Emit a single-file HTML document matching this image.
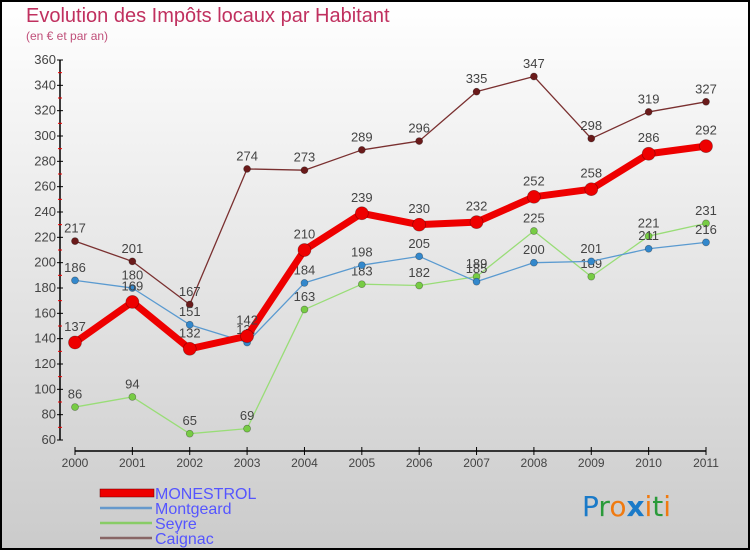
<!DOCTYPE html>
<html><head><meta charset="utf-8"><style>
body{margin:0;width:750px;height:550px;overflow:hidden}
svg{display:block;font-family:"Liberation Sans","DejaVu Sans",sans-serif}
</style></head><body>
<svg id="c" width="750" height="550" xmlns="http://www.w3.org/2000/svg">
<defs><linearGradient id="bg" x1="0" y1="0" x2="0" y2="1"><stop offset="0" stop-color="#ffffff"/><stop offset="1" stop-color="#cbcbcb"/></linearGradient></defs>
<rect x="1" y="1" width="748" height="548" fill="url(#bg)" stroke="#000" stroke-width="2"/>
<text x="26" y="22" font-size="20" fill="#c0305f">Evolution des Impôts locaux par Habitant</text>
<text x="26" y="40" font-size="12" fill="#c0507a">(en € et par an)</text>
<g id="axes"></g><g id="series"></g>
<g>
<rect x="100" y="489" width="54" height="8" fill="#e00" stroke="#600" stroke-width="0.5"/>
<text x="155" y="499" font-size="16" fill="#5555ff">MONESTROL</text>
<line x1="100" y1="508" x2="152" y2="508" stroke="#6699cc" stroke-width="2.5"/>
<text x="155" y="514" font-size="16" fill="#5555ff">Montgeard</text>
<line x1="100" y1="523" x2="152" y2="523" stroke="#88cc66" stroke-width="2.5"/>
<text x="155" y="529" font-size="16" fill="#5555ff">Seyre</text>
<line x1="100" y1="538" x2="152" y2="538" stroke="#886666" stroke-width="2.5"/>
<text x="155" y="544" font-size="16" fill="#5555ff">Caignac</text>
</g>
<text x="582" y="516" font-size="28" font-family="'DejaVu Sans',sans-serif"><tspan fill="#1a7ac8">P</tspan><tspan fill="#2a9a3a">r</tspan><tspan fill="#f07a10">o</tspan><tspan fill="#1a7ac8" font-weight="bold">x</tspan><tspan fill="#f07a10">i</tspan><tspan fill="#2a9a3a">t</tspan><tspan fill="#f07a10">i</tspan></text>
</svg>
<script>
const years=[2000,2001,2002,2003,2004,2005,2006,2007,2008,2009,2010,2011];
const monestrol=[137,169,132,142,210,239,230,232,252,258,286,292];
const montgeard=[186,180,151,137,184,198,205,185,200,201,211,216];
const seyre=[86,94,65,69,163,183,182,189,225,189,221,231];
const caignac=[217,201,167,274,273,289,296,335,347,298,319,327];
const yTicks=[60,80,100,120,140,160,180,200,220,240,260,280,300,320,340,360];
const NS='http://www.w3.org/2000/svg';
const x=i=>75+i*(706-75)/(years.length-1);
const y=v=>440-(v-60)*(380/300);
function mk(tag,attrs,parent){const e=document.createElementNS(NS,tag);for(const k in attrs)e.setAttribute(k,attrs[k]);parent.appendChild(e);return e;}
const ax=document.getElementById('axes');
const yl=mk('line',{x1:60,y1:y(360),x2:60,y2:y(60),stroke:'#000','stroke-width':1.5},ax);


yTicks.forEach((t,i)=>{
  mk('line',{x1:57,y1:y(t),x2:63,y2:y(t),stroke:'#000'},ax);
  if(i<yTicks.length-1)mk('line',{x1:58,y1:y(t+10),x2:62,y2:y(t+10),stroke:'#e00'},ax);
  const tx=mk('text',{x:56,y:y(t)+4,'text-anchor':'end','font-size':13,fill:'#444'},ax);
  tx.textContent=t;
  
  
});
const xl=mk('line',{x1:75,y1:451,x2:706,y2:451,stroke:'#000','stroke-width':1.5},ax);


years.forEach((yr,i)=>{
  mk('line',{x1:x(i),y1:447,x2:x(i),y2:455,stroke:'#000'},ax);
  const tx=mk('text',{x:x(i),y:467,'text-anchor':'middle','font-size':12,fill:'#444'},ax);
  tx.textContent=yr;
  
  
});
const sg=document.getElementById('series');
function draw(name,data,color,dot,w,r){
  const g=mk('g',{},sg);
  
  
  const pts=data.map((v,i)=>x(i)+','+y(v)).join(' ');
  mk('polyline',{points:pts,fill:'none',stroke:color,'stroke-width':w,'stroke-linejoin':'round'},g);
  data.forEach((v,i)=>{
    const c=mk('circle',{cx:x(i),cy:y(v),r:r,fill:dot,stroke:'rgba(0,0,0,0.35)','stroke-width':0.7},g);
    
    
    const t=mk('text',{x:x(i),y:y(v)-r-5,'text-anchor':'middle','font-size':13,fill:'#444'},g);
    t.textContent=v;
    
    
  });
}
draw('caignac',caignac,'#7a3030','#6a1a1a',1.3,3.5);
draw('seyre',seyre,'#99dd77','#77cc44',1.3,3.5);
draw('montgeard',montgeard,'#5a9ad0','#3388cc',1.3,3.5);
draw('monestrol',monestrol,'#ee0000','#ee0000',7,6.5);
</script>
</body></html>
